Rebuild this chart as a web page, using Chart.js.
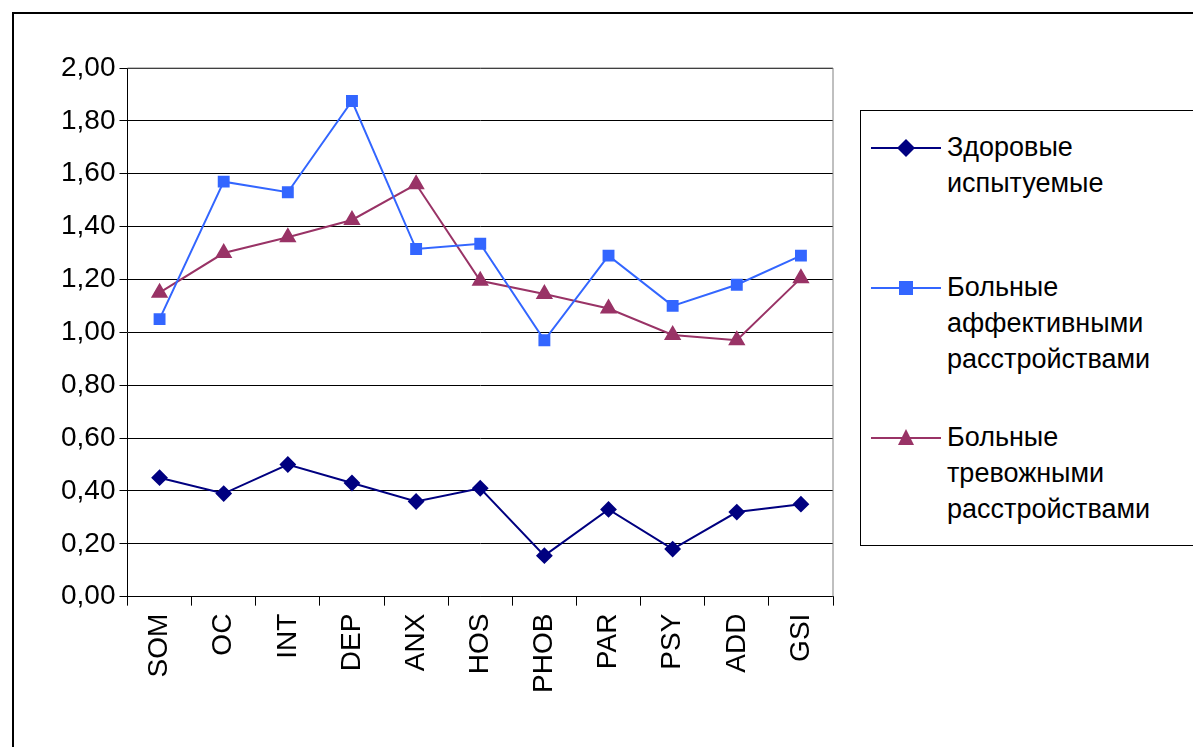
<!DOCTYPE html>
<html><head><meta charset="utf-8">
<script src="https://cdn.jsdelivr.net/npm/chart.js@4"></script>
<style>
body{margin:0;background:#fff;font-family:"Liberation Sans",Arial,sans-serif}
#frame{position:absolute;left:12px;top:12px;width:1200px;height:760px;border:2px solid #000}
#wrap{position:absolute;left:0;top:0;width:1193px;height:747px}
#legend{position:absolute;left:860px;top:110px;width:360px;height:434px;border:1px solid #000;background:#fff;font-size:27px;color:#000}
.item{position:absolute;left:0;display:flex}
.item svg{flex:none;margin-top:4px}
.item span{line-height:36px;margin-left:6px}
</style></head>
<body>
<div id="frame"></div>
<div id="wrap"><canvas id="myChart"></canvas></div>
<div id="legend">
 <div class="item" style="top:18px"><svg width="80" height="30"><line x1="10" y1="15" x2="80" y2="15" stroke="#000080" stroke-width="2"/><path d="M45 6 L54 15 L45 24 L36 15Z" fill="#000080"/></svg><span>Здоровые<br>испытуемые</span></div>
 <div class="item" style="top:158px"><svg width="80" height="30"><line x1="10" y1="15" x2="80" y2="15" stroke="#3366ff" stroke-width="2"/><rect x="38" y="8" width="14" height="14" fill="#3366ff"/></svg><span>Больные<br>аффективными<br>расстройствами</span></div>
 <div class="item" style="top:308px"><svg width="80" height="30"><line x1="10" y1="15" x2="80" y2="15" stroke="#993366" stroke-width="2"/><path d="M45 6 L53 22 L37 22Z" fill="#993366"/></svg><span>Больные<br>тревожными<br>расстройствами</span></div>
</div>
<script>
const categories = ["SOM","OC","INT","DEP","ANX","HOS","PHOB","PAR","PSY","ADD","GSI"]
const healthy = [0.45,0.39,0.50,0.43,0.36,0.41,0.155,0.33,0.18,0.32,0.35]
const affective = [1.05,1.57,1.53,1.875,1.315,1.335,0.97,1.29,1.10,1.18,1.29]
const anxious = [1.15,1.30,1.36,1.425,1.56,1.195,1.145,1.09,0.99,0.97,1.205]

const borderPlugin = {
  id: "plotBorder",
  afterDraw(chart){
    const a = chart.chartArea, c = chart.ctx
    c.save(); c.strokeStyle = "#808080"; c.lineWidth = 1
    c.beginPath(); c.moveTo(a.left, a.top); c.lineTo(a.right, a.top); c.lineTo(a.right, a.bottom); c.stroke()
    c.restore()
  }
}

new Chart("myChart", {
  type: "line",
  data: {
    labels: categories,
    datasets: [
      {data: healthy, borderColor:"#000080", backgroundColor:"#000080", pointStyle:"rectRot", pointRadius:7, borderWidth:2},
      {data: affective, borderColor:"#3366ff", backgroundColor:"#3366ff", pointStyle:"rect", pointRadius:7, borderWidth:2},
      {data: anxious, borderColor:"#993366", backgroundColor:"#993366", pointStyle:"triangle", pointRadius:8, borderWidth:2}
    ]
  },
  options: {
    responsive:true, maintainAspectRatio:false, animation:false,
    layout:{padding:{left:57,top:68,right:360,bottom:46}},
    plugins:{legend:{display:false}, tooltip:{enabled:false}},
    elements:{line:{tension:0}},
    scales:{
      x:{offset:true,
        grid:{display:true, drawOnChartArea:false, offset:true, tickLength:9, color:"#000"},
        border:{color:"#000", width:1},
        ticks:{color:"#000", font:{size:28, family:"Liberation Sans"}, maxRotation:90, minRotation:90, padding:8}},
      y:{min:0, max:2,
        grid:{color:"#000", tickLength:8},
        border:{color:"#000"},
        ticks:{stepSize:0.2, color:"#000", font:{size:28, family:"Liberation Sans"}, padding:4,
          callback:v=>v.toFixed(2).replace(".",",")}}
    }
  },
  plugins:[borderPlugin]
})
</script>
</body></html>
